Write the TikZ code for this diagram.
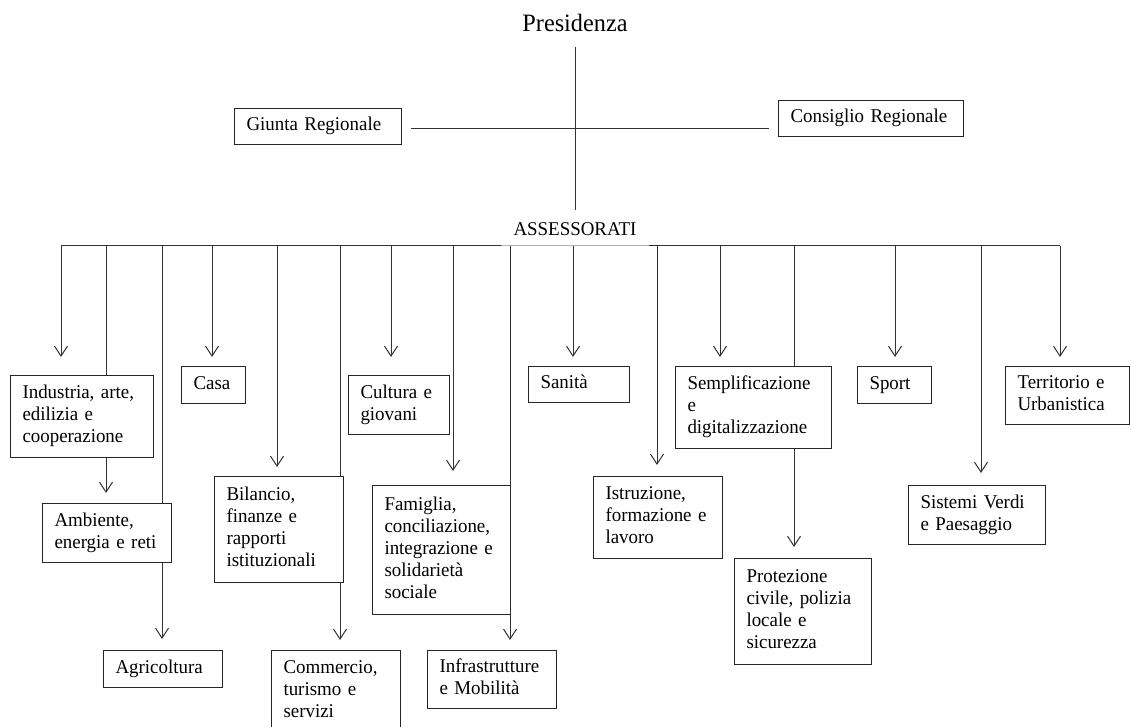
\documentclass[tikz,border=0pt]{standalone}
\usepackage{fontspec}
\setmainfont{Liberation Serif}[FakeStretch=0.97]
\usetikzlibrary{arrows.meta}
% box: name, left, top, right, bottom, lines of text (left aligned, never wrapped)
\newcommand{\orgbox}[6]{%
  \pgfmathsetmacro\obtw{#4-#2-24}%
  \pgfmathsetmacro\obh{#5-#3}%
  \node[box, text width=\obtw pt, minimum height=\obh pt] (#1) at (#2,#3)
    {\begin{tabular}{@{}l@{}}#6\end{tabular}};}
\begin{document}
\begin{tikzpicture}[x=1pt,y=-1pt,
  ln/.style={line width=1pt, draw=black!80},
  arr/.style={ln, -{Straight Barb[length=10pt,width=13pt,line width=1pt]}},
  box/.style={draw=black!85, line width=1pt, font=\fontsize{19.5}{22}\selectfont,
    align=left, inner xsep=12pt, inner ysep=0pt, anchor=north west},
]
\useasboundingbox (0,0) rectangle (1132,727);

% top of the chart
\node[font=\fontsize{25}{30}\selectfont, inner sep=0pt, anchor=base] (pres) at (575,32) {Presidenza};
\node[font=\fontsize{19.5}{22}\selectfont, inner xsep=12pt, inner ysep=0pt, anchor=base] (ass) at (575,236) {ASSESSORATI};
\orgbox{giunta}{234}{108}{401}{144}{Giunta Regionale}
\orgbox{consiglio}{778}{100}{963}{136}{Consiglio Regionale}

\draw[ln, shorten <=15pt, shorten >=13pt] (pres.south) -- (ass.north);
\draw[ln, shorten <=9pt, shorten >=9pt] ([yshift=-2pt]giunta.east) -- ([yshift=-2pt]giunta.east -| consiglio.west);

% departments
\orgbox{ind}{10}{375}{153}{457}{Industria, arte,\\edilizia e\\cooperazione}
\orgbox{amb}{42}{503}{171}{562}{Ambiente,\\energia e reti}
\orgbox{agr}{103}{650}{222}{687}{Agricoltura}
\orgbox{casa}{181}{366}{245}{403}{Casa}
\orgbox{bil}{214}{476}{343}{582}{Bilancio,\\finanze e\\rapporti\\istituzionali}
\orgbox{com}{271}{650}{400}{732}{Commercio,\\turismo e\\servizi}
\orgbox{cul}{348}{375}{449}{434}{Cultura e\\giovani}
\orgbox{fam}{372}{485}{510}{614}{Famiglia,\\conciliazione,\\integrazione e\\solidarietà\\sociale}
\orgbox{inf}{427}{650}{556}{708}{Infrastrutture\\e Mobilità}
\orgbox{san}{528}{366}{629}{402}{Sanità}
\orgbox{ist}{593}{476}{722}{558}{Istruzione,\\formazione e\\lavoro}
\orgbox{sem}{675}{366}{831}{448}{Semplificazione\\e\\digitalizzazione}
\orgbox{pro}{734}{558}{871}{664}{Protezione\\civile, polizia\\locale e\\sicurezza}
\orgbox{spo}{857}{366}{931}{403}{Sport}
\orgbox{sis}{908}{485}{1045}{544}{Sistemi Verdi\\e Paesaggio}
\orgbox{ter}{1005}{366}{1129}{424}{Territorio e\\Urbanistica}

% taps on the distribution bar
\coordinate (t1) at (61,246);
\coordinate (t2) at (106,246);
\coordinate (t3) at (162,246);
\coordinate (t4) at (212,246);
\coordinate (t5) at (277,246);
\coordinate (t6) at (340,246);
\coordinate (t7) at (391,246);
\coordinate (t8) at (453,246);
\coordinate (t9) at (510,246);
\coordinate (t10) at (573,246);
\coordinate (t11) at (657,246);
\coordinate (t12) at (720,246);
\coordinate (t13) at (794,246);
\coordinate (t14) at (895,246);
\coordinate (t15) at (981,246);
\coordinate (t16) at (1060,246);

% distribution bar, lighter where it runs under the label
\draw[ln] (t1) -- (ass.west |- t1);
\draw[line width=1pt, draw=black!30] (ass.west |- t1) -- (ass.east |- t1);
\draw[ln] (ass.east |- t1) -- (t16);

% drops
\draw[arr, shorten >=18pt] (t1) -- (ind.north -| t1);
\draw[ln] (t2) -- (ind.north -| t2);
\draw[arr, shorten >=10pt] (ind.south -| t2) -- (amb.north -| t2);
\draw[ln] (t3) -- (amb.north -| t3);
\draw[arr, shorten >=11pt] (amb.south -| t3) -- (agr.north -| t3);
\draw[arr, shorten >=9pt] (t4) -- (casa.north -| t4);
\draw[arr, shorten >=9pt] (t5) -- (bil.north -| t5);
\draw[ln] (t6) -- (bil.north -| t6);
\draw[arr, shorten >=10pt] (bil.south -| t6) -- (com.north -| t6);
\draw[arr, shorten >=18pt] (t7) -- (cul.north -| t7);
\draw[arr, shorten >=14pt] (t8) -- (fam.north -| t8);
\draw[arr, shorten >=10pt] (t9) -- (inf.north -| t9);
\draw[arr, shorten >=9pt] (t10) -- (san.north -| t10);
\draw[arr, shorten >=11pt] (t11) -- (ist.north -| t11);
\draw[arr, shorten >=9pt] (t12) -- (sem.north -| t12);
\draw[ln] (t13) -- (sem.north -| t13);
\draw[arr, shorten >=11pt] (sem.south -| t13) -- (pro.north -| t13);
\draw[arr, shorten >=9pt] (t14) -- (spo.north -| t14);
\draw[arr, shorten >=12pt] (t15) -- (sis.north -| t15);
\draw[arr, shorten >=9pt] (t16) -- (ter.north -| t16);
\end{tikzpicture}
\end{document}
